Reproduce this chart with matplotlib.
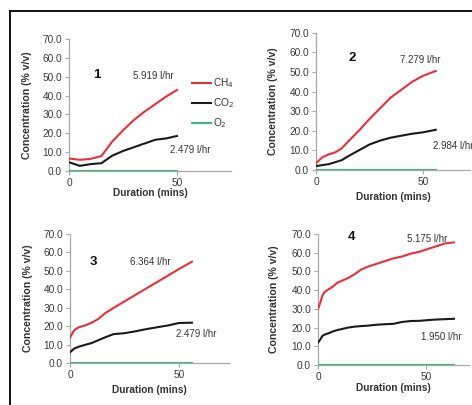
import matplotlib
matplotlib.use("Agg")
import matplotlib.pyplot as plt
from matplotlib.lines import Line2D

plt.rcParams['font.family'] = ['Liberation Sans', 'DejaVu Sans']

# ---- data ----
p1_t_ch4 = [0, 5, 10, 15, 20, 25, 30, 35, 40, 45, 50]
p1_ch4 = [6.5, 5.8, 6.3, 7.8, 15.5, 21.5, 27.0, 31.5, 35.5, 39.5, 43.0]
p1_co2 = [4.5, 2.6, 3.5, 4.0, 8.0, 10.5, 12.5, 14.5, 16.5, 17.2, 18.5]

p2_t = [0, 3, 6, 9, 12, 15, 20, 25, 30, 35, 40, 45, 50, 56]
p2_ch4 = [3.5, 6.5, 8.0, 9.0, 11.0, 14.5, 20.0, 26.0, 31.5, 37.0, 41.0, 45.0, 48.0, 50.5]
p2_co2 = [2.0, 2.5, 3.0, 4.0, 5.0, 7.0, 10.0, 13.0, 15.0, 16.5, 17.5, 18.5, 19.2, 20.5]

p3_t = [0, 2, 4, 7, 10, 13, 16, 20, 25, 30, 35, 40, 45, 50, 56]
p3_ch4 = [14.0, 18.0, 19.5, 20.5, 22.0, 24.0, 27.0, 30.0, 33.5, 37.0, 40.5, 44.0, 47.5, 51.0, 55.0]
p3_co2 = [6.0, 8.0, 9.0, 10.0, 11.0, 12.5, 14.0, 15.8, 16.3, 17.3, 18.5, 19.5, 20.5, 21.8, 22.0]

p4_t = [0, 1, 2, 3, 5, 7, 9, 11, 14, 17, 20, 23, 27, 31, 35, 39, 43, 47, 51, 55, 59, 63]
p4_ch4 = [30.0, 33.0, 37.0, 39.0, 40.5, 42.0, 44.0, 45.0, 46.5, 48.5, 51.0, 52.5, 54.0, 55.5,
          57.0, 58.0, 59.5, 60.5, 62.0, 63.5, 65.0, 65.5]
p4_co2 = [12.0, 13.5, 15.5, 16.2, 17.0, 18.0, 18.7, 19.2, 20.0, 20.5, 20.8, 21.0, 21.5, 21.8,
          22.0, 23.0, 23.5, 23.6, 24.0, 24.3, 24.5, 24.7]

rates_ch4 = ["5.919 l/hr", "7.279 l/hr", "6.364 l/hr", "5.175 l/hr"]
rates_co2 = ["2.479 l/hr", "2.984 l/hr", "2.479 l/hr", "1.950 l/hr"]
panel_ids = ["1", "2", "3", "4"]
series_names = ["CH$_4$", "CO$_2$", "O$_2$"]
yticks = [0, 10, 20, 30, 40, 50, 60, 70]
xticks = [0, 50]

RED = "#e8303a"
BLACK = "#1a1a1a"
GREEN = "#3cb878"
GREY = "#a8a8a8"
TXT = "#333333"

W, H = 472, 405
fig = plt.figure(figsize=(W / 100, H / 100), dpi=100)
fig.patch.set_facecolor("white")

# frame lines (left and top)
fig.add_artist(Line2D([10 / W, 10 / W], [0, 1 - 11 / H], transform=fig.transFigure,
                      color="#111111", lw=1.4))
fig.add_artist(Line2D([10 / W, 1], [1 - 11 / H, 1 - 11 / H], transform=fig.transFigure,
                      color="#111111", lw=1.4))

def px_axes(left, right, bottom, top):
    return fig.add_axes([left / W, 1 - bottom / H, (right - left) / W, (bottom - top) / H])

panels = [
    dict(box=(69, 231, 170.7, 39.3), xmax=75, t=p1_t_ch4, ch4=p1_ch4, co2=p1_co2,
         id_xy=(97, 75), r1_xy=(153, 76), r2_xy=(190, 150), xl_y=193, yl_x=27),
    dict(box=(316, 470, 170, 32.7), xmax=72, t=p2_t, ch4=p2_ch4, co2=p2_co2,
         id_xy=(352, 58), r1_xy=(420, 60), r2_xy=(453, 146), xl_y=197, yl_x=273),
    dict(box=(70, 229, 363.3, 234), xmax=73, t=p3_t, ch4=p3_ch4, co2=p3_co2,
         id_xy=(93, 262), r1_xy=(150, 262), r2_xy=(196, 334), xl_y=390, yl_x=28),
    dict(box=(318, 469, 365, 234), xmax=70, t=p4_t, ch4=p4_ch4, co2=p4_co2,
         id_xy=(352, 237), r1_xy=(427, 239), r2_xy=(441, 337), xl_y=388, yl_x=274),
]

for i, p in enumerate(panels):
    l, r, b, t = p["box"]
    ax = px_axes(l, r, b, t)
    ax.set_facecolor("white")
    ax.plot(p["t"], [0] * len(p["t"]), color=GREEN, lw=1.5, zorder=3)
    ax.plot(p["t"], p["co2"], color=BLACK, lw=1.5, zorder=4)
    ax.plot(p["t"], p["ch4"], color=RED, lw=1.5, zorder=5)
    ax.set_xlim(0, p["xmax"])
    ax.set_ylim(0, 70)
    ax.set_yticks(yticks)
    ax.set_yticklabels([f"{v:.1f}" for v in yticks])
    ax.set_xticks(xticks)
    for s in ("top", "right"):
        ax.spines[s].set_visible(False)
    for s in ("left", "bottom"):
        ax.spines[s].set_color(GREY)
        ax.spines[s].set_linewidth(0.9)
    ax.tick_params(axis="both", colors=GREY, labelcolor="#3a3a3a", labelsize=7.3, length=3,
                   width=0.8, pad=2)
    # labels
    fig.text((l + r) / 2 / W - 0.0, 1 - p["xl_y"] / H, "Duration (mins)", ha="center",
             va="center", fontsize=7.3, fontweight="bold", color=TXT)
    fig.text(p["yl_x"] / W, 1 - (b + t) / 2 / H, "Concentration (% v/v)", ha="center",
             va="center", rotation=90, fontsize=7.6, fontweight="bold", color=TXT)
    fig.text(p["id_xy"][0] / W, 1 - p["id_xy"][1] / H, panel_ids[i], ha="center", va="center",
             fontsize=9.5, fontweight="bold", color="#111111")
    fig.text(p["r1_xy"][0] / W, 1 - p["r1_xy"][1] / H, rates_ch4[i], ha="center", va="center",
             fontsize=7, color=TXT)
    fig.text(p["r2_xy"][0] / W, 1 - p["r2_xy"][1] / H, rates_co2[i], ha="center", va="center",
             fontsize=7, color=TXT)

# legend (panel 1)
for j, (name, col) in enumerate(zip(series_names, [RED, BLACK, GREEN])):
    y = 1 - (83 + 20 * j) / H
    fig.add_artist(Line2D([192 / W, 211 / W], [y, y], transform=fig.transFigure, color=col,
                          lw=1.5))
    fig.text(213 / W, y, name, ha="left", va="center", fontsize=7.3, color=TXT)

fig.savefig("out.png", dpi=100, facecolor="white")
